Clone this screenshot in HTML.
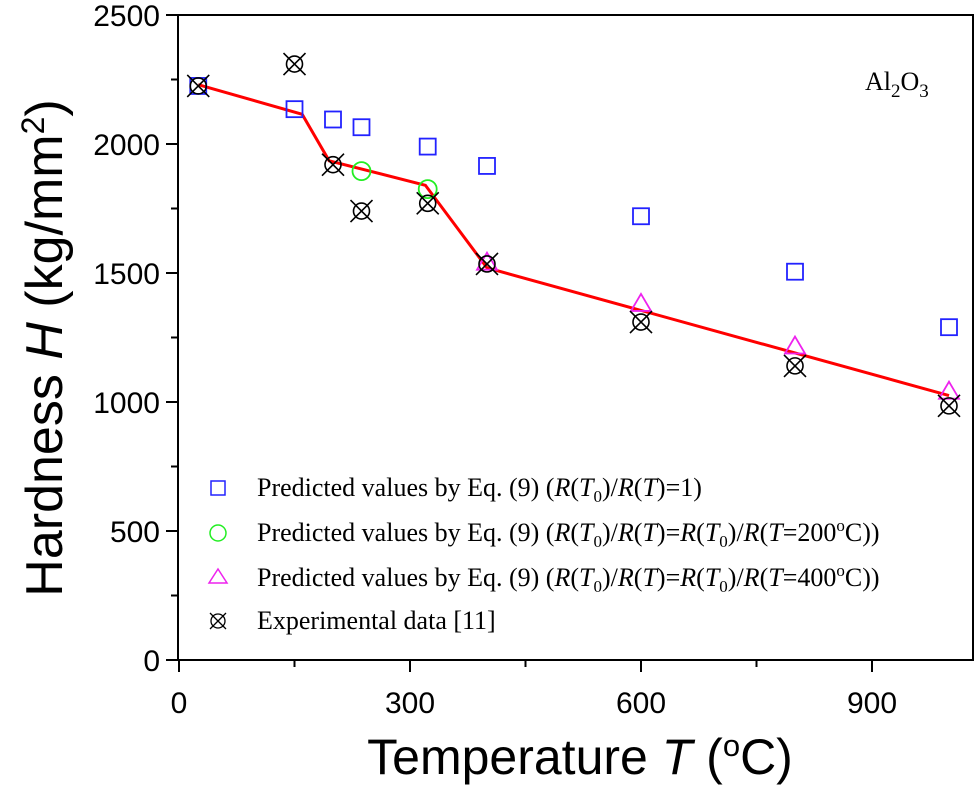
<!DOCTYPE html>
<html><head><meta charset="utf-8"><style>
body{margin:0;background:#fff}
svg{display:block}
.tk{font-family:"Liberation Sans",Arial,sans-serif;font-size:30px;fill:#000}
.lg{font-family:"Liberation Serif","Times New Roman",serif;font-size:26px;fill:#000}
</style></head><body>
<svg id="chart" width="975" height="786" viewBox="0 0 975 786" xmlns="http://www.w3.org/2000/svg">
<g id="marks"></g>
<rect x="178" y="15" width="795" height="645" fill="none" stroke="#000" stroke-width="2"/>
<g id="axes"></g>
<text x="580" y="774" text-anchor="middle" font-family="Liberation Sans,sans-serif" font-size="50">Temperature <tspan font-style="italic">T</tspan> (<tspan font-size="31" dy="-18">o</tspan><tspan dy="18">C)</tspan></text>
<text transform="translate(62,348) rotate(-90)" text-anchor="middle" font-family="Liberation Sans,sans-serif" font-size="52">Hardness <tspan font-style="italic">H</tspan> (kg/mm<tspan font-size="32" dy="-18">2</tspan><tspan dy="18">)</tspan></text>
<text x="865" y="90" class="lg" font-size="28">Al<tspan font-size="19" dy="7">2</tspan><tspan dy="-7">O</tspan><tspan font-size="19" dy="7">3</tspan></text>
<g>
<rect x="211" y="481" width="14" height="14" fill="none" stroke="#22f" stroke-width="1.5"/>
<text class="lg" x="257" y="496">Predicted values by Eq. (9) (<tspan font-style="italic">R</tspan>(<tspan font-style="italic">T</tspan><tspan font-size="17" dy="6">0</tspan><tspan dy="-6">)/</tspan><tspan font-style="italic">R</tspan>(<tspan font-style="italic">T</tspan>)=1)</text>
<circle cx="218" cy="533" r="8" fill="none" stroke="#2e2" stroke-width="1.5"/>
<text class="lg" x="257" y="541">Predicted values by Eq. (9) (<tspan font-style="italic">R</tspan>(<tspan font-style="italic">T</tspan><tspan font-size="17" dy="6">0</tspan><tspan dy="-6">)/</tspan><tspan font-style="italic">R</tspan>(<tspan font-style="italic">T</tspan>)=<tspan font-style="italic">R</tspan>(<tspan font-style="italic">T</tspan><tspan font-size="17" dy="6">0</tspan><tspan dy="-6">)/</tspan><tspan font-style="italic">R</tspan>(<tspan font-style="italic">T</tspan>=200<tspan font-size="17" dy="-10">o</tspan><tspan dy="10">C))</tspan></text>
<path d="M218,569 L227,583 L209,583 Z" fill="none" stroke="#e2e" stroke-width="1.5"/>
<text class="lg" x="257" y="586">Predicted values by Eq. (9) (<tspan font-style="italic">R</tspan>(<tspan font-style="italic">T</tspan><tspan font-size="17" dy="6">0</tspan><tspan dy="-6">)/</tspan><tspan font-style="italic">R</tspan>(<tspan font-style="italic">T</tspan>)=<tspan font-style="italic">R</tspan>(<tspan font-style="italic">T</tspan><tspan font-size="17" dy="6">0</tspan><tspan dy="-6">)/</tspan><tspan font-style="italic">R</tspan>(<tspan font-style="italic">T</tspan>=400<tspan font-size="17" dy="-10">o</tspan><tspan dy="10">C))</tspan></text>
<g stroke="#000" stroke-width="1.3" fill="none"><circle cx="218" cy="621" r="7"/><path d="M210,613 L226,629 M226,613 L210,629"/></g>
<text class="lg" x="257" y="629">Experimental data [11]</text>
</g>
</svg>
<script>
const xTicks=[0,300,600,900];
const xMinor=[150,450,750];
const yTicks=[0,500,1000,1500,2000,2500];
const yMinor=[250,750,1250,1750,2250];
const sqT=[25,150,200,237,323,400,600,800,1000];
const sqH=[2225,2135,2095,2065,1990,1915,1720,1505,1290];
const ciT=[237,323];
const ciH=[1895,1825];
const trT=[400,600,800,1000];
const trH=[1540,1380,1215,1040];
const exT=[25,150,200,237,323,400,600,800,1000];
const exH=[2225,2310,1920,1740,1770,1535,1310,1140,985];
const lnT=[25,160,195,320,400,1000];
const lnH=[2230,2115,1935,1840,1520,1025];
const X=t=>179+t*0.77;
const Y=h=>660-h*0.258;
const NS="http://www.w3.org/2000/svg";
const marks=document.getElementById('marks'),axes=document.getElementById('axes');
function mk(tag,attrs,parent){const e=document.createElementNS(NS,tag);for(const k in attrs)e.setAttribute(k,attrs[k]);parent.appendChild(e);return e;}
xTicks.forEach(t=>{
 const l=mk('line',{x1:X(t),x2:X(t),y1:660,y2:672,stroke:'#000','stroke-width':2},axes);
 
 
 const tx=mk('text',{x:X(t),y:713,'text-anchor':'middle',class:'tk'},axes);tx.textContent=t;
 
 
});
xMinor.forEach(t=>{
 const l=mk('line',{x1:X(t),x2:X(t),y1:660,y2:667,stroke:'#000','stroke-width':2},axes);
 
 
});
yTicks.forEach(h=>{
 const l=mk('line',{x1:166,x2:178,y1:Y(h),y2:Y(h),stroke:'#000','stroke-width':2},axes);
 
 
 const tx=mk('text',{x:160,y:Y(h)+11,'text-anchor':'end',class:'tk'},axes);tx.textContent=h;
 
 
});
yMinor.forEach(h=>{
 const l=mk('line',{x1:171,x2:178,y1:Y(h),y2:Y(h),stroke:'#000','stroke-width':2},axes);
 
 
});
const pl=mk('polyline',{points:lnT.map((t,i)=>X(t)+','+Y(lnH[i])).join(' '),fill:'none',stroke:'#f00','stroke-width':3},marks);


sqT.forEach((t,i)=>{
 const r=mk('rect',{x:X(t)-8,y:Y(sqH[i])-8,width:16,height:16,fill:'none',stroke:'#22f','stroke-width':1.8},marks);
 
 
});
ciT.forEach((t,i)=>{
 const c=mk('circle',{cx:X(t),cy:Y(ciH[i]),r:9,fill:'none',stroke:'#2e2','stroke-width':1.8},marks);
 
 
});
trT.forEach((t,i)=>{
 const x=X(t),y=Y(trH[i]);
 const p=mk('path',{d:`M${x},${y-10} L${x+10},${y+7} L${x-10},${y+7} Z`,fill:'none',stroke:'#e2e','stroke-width':1.8},marks);
 
 
});
exT.forEach((t,i)=>{
 const x=X(t),y=Y(exH[i]);
 const g=mk('g',{stroke:'#000','stroke-width':1.6,fill:'none'},marks);
 
 
 mk('circle',{cx:x,cy:y,r:8},g);
 mk('path',{d:`M${x-11},${y-11} L${x+11},${y+11} M${x+11},${y-11} L${x-11},${y+11}`},g);
});
</script>
</body></html>
